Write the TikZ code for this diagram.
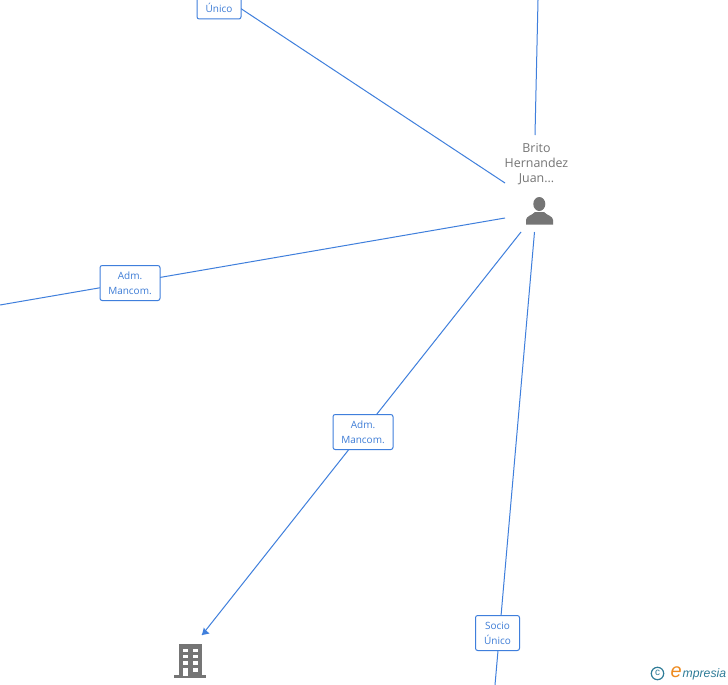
\documentclass[tikz,border=0pt]{standalone}
\usepackage{fontspec}
\setmainfont{Open Sans}
\newfontfamily\logofont{Liberation Sans}
\definecolor{linkblue}{HTML}{3F7FDC}
\definecolor{labelblue}{HTML}{3D7CD6}
\definecolor{icongrey}{HTML}{757575}
\definecolor{logoteal}{HTML}{2F7C98}
\definecolor{logoorange}{HTML}{EE8A1E}
\tikzset{
  link/.style={draw=linkblue,line width=1pt},
  tag/.style={draw=linkblue,line width=1pt,fill=white,rounded corners=2.2pt,align=center,
    text=labelblue,font=\fontsize{10}{15}\selectfont,inner sep=0pt},
  personlabel/.style={align=center,text=icongrey,font=\fontsize{12.4}{15}\selectfont,inner sep=0pt},
}
\begin{document}
\begin{tikzpicture}[x=1pt,y=-1pt]
\useasboundingbox (0,0) rectangle (728,685);
\clip (0,0) rectangle (728,685);
\fill[white] (0,0) rectangle (728,685);
% free ends
\coordinate (t1) at (240,8);
\coordinate (t2) at (505,183);
\coordinate (u1) at (538,0);
\coordinate (u2) at (535,135);
\coordinate (l1) at (0,305);
\coordinate (l2) at (505,218);
\coordinate (m1) at (521,232);
\coordinate (m2) at (202,635);
\coordinate (b1) at (534.5,232);
\coordinate (b2) at (495,685);
% connectors
\draw[link] (t1) -- (t2);
\draw[link] (u1) -- (u2);
\draw[link] (l1) -- (l2);
\draw[link] (m1) -- (m2);
\draw[link] (b1) -- (b2);
\fill[linkblue] (m2) -- (209.5,633.5) -- (205.5,630) -- (203.8,627.5) -- cycle;
% labels
\node[tag,minimum width=44pt,minimum height=30pt] (unico) at (219,4) {\raisebox{-9pt}[0pt][0pt]{Único}};
\node[tag,minimum width=60pt,minimum height=35pt] (adm1) at (130,283) {Adm.\\Mancom.};
\node[tag,minimum width=60pt,minimum height=35pt] (adm2) at (363,432) {Adm.\\Mancom.};
\node[tag,minimum width=44pt,minimum height=35pt] (socio) at (497.5,633) {Socio\\Único};
\node[personlabel] (brito) at (536.5,164) {Brito\\Hernandez\\Juan...};
% person icon
\fill[icongrey] (539.3,204) ellipse (6pt and 7pt);
\fill[icongrey] (526,224.5) -- (526,220) .. controls (526,216) and (532,215.5) .. (535,212)
  -- (544,212) .. controls (547,215.5) and (553,216) .. (553,220) -- (553,224.5) -- cycle;
% building icon
\fill[icongrey] (179,644) rectangle (202,676);
\fill[icongrey] (174,675.2) rectangle (206,678);
\foreach \x in {183,193}{
  \foreach \y in {648.5,654.5,661}{
    \fill[white] (\x,\y) rectangle +(4.5,3.8);
  }
}
\fill[white] (183,668) rectangle (187.5,676);
\fill[white] (193,668) rectangle (197.5,672);
% logo
\draw[logoteal,line width=1.2pt] (657.5,673.5) circle (6.2pt);
\node[inner sep=0pt,text=logoteal,font=\logofont\fontsize{10}{10}\selectfont] (copy) at (657.5,673) {c};
\node[inner sep=0pt,anchor=east,text=logoorange,font=\logofont\itshape\fontsize{20}{20}\selectfont] (loge) at (682,672) {e};
\node[inner sep=0pt,anchor=west,text=logoteal,font=\logofont\itshape\fontsize{12.2}{13}\selectfont] (logo) at (682.5,674) {mpresia};
\end{tikzpicture}
\end{document}
